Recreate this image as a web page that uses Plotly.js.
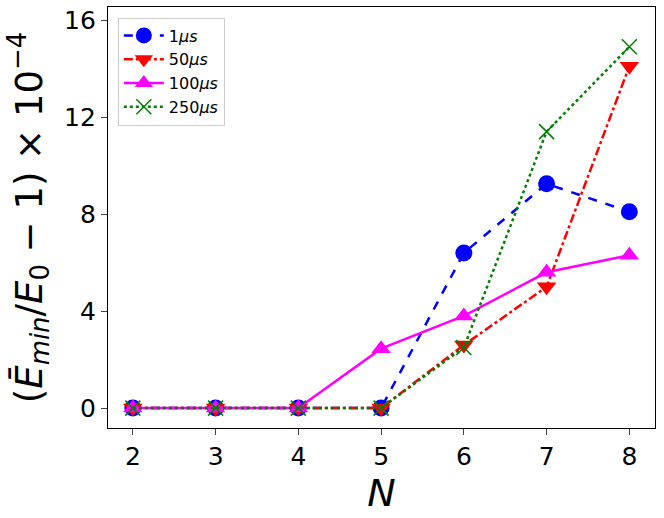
<!DOCTYPE html>
<html>
<head>
<meta charset="utf-8">
<script src="https://cdn.plot.ly/plotly-3.0.1.min.js"></script>
<style>
  html, body { margin: 0; padding: 0; background: #fff; }
  #chart { width: 664px; height: 518px; }
</style>
</head>
<body>
<div id="chart"></div>
<script>
const nValues = [2, 3, 4, 5, 6, 7, 8];
const series1us = [0, 0, 0, 0, 6.4, 9.25, 8.1];
const series50us = [0, 0, 0, 0, 2.6, 5.0, 14.1];
const series100us = [0, 0, 0, 2.45, 3.8, 5.6, 6.3];
const series250us = [0, 0, 0, 0, 2.5, 11.4, 14.9];
const yTicks = [0, 4, 8, 12, 16];

const traces = [
  {x: nValues, y: series1us, name: '1<i>μs</i>', mode: 'lines+markers',
   line: {color: '#0000ff', dash: 'dash', width: 2.5},
   marker: {symbol: 'circle', size: 17, color: '#0000ff'}},
  {x: nValues, y: series50us, name: '50<i>μs</i>', mode: 'lines+markers',
   line: {color: '#ff0000', dash: 'dashdot', width: 2.5},
   marker: {symbol: 'triangle-down', size: 17, color: '#ff0000'}},
  {x: nValues, y: series100us, name: '100<i>μs</i>', mode: 'lines+markers',
   line: {color: '#ff00ff', dash: 'solid', width: 2.5},
   marker: {symbol: 'triangle-up', size: 17, color: '#ff00ff'}},
  {x: nValues, y: series250us, name: '250<i>μs</i>', mode: 'lines+markers',
   line: {color: '#008000', dash: 'dot', width: 2.5},
   marker: {symbol: 'x-thin', size: 15, line: {color: '#008000', width: 1.5}, color: '#008000'}}
];

const layout = {
  width: 664, height: 518,
  margin: {l: 108, r: 9, t: 7, b: 90},
  paper_bgcolor: '#fff', plot_bgcolor: '#fff',
  font: {family: 'DejaVu Sans', color: '#000'},
  showlegend: true,
  legend: {x: 0.018, y: 0.975, xanchor: 'left', yanchor: 'top',
    bgcolor: 'rgba(255,255,255,0.8)', bordercolor: '#cccccc', borderwidth: 1,
    font: {size: 16, family: 'DejaVu Sans'}, tracegroupgap: 0, itemwidth: 40},
  xaxis: {
    range: [1.70, 8.31], tickvals: nValues, ticks: 'outside', ticklen: 6,
    tickfont: {size: 25}, showgrid: false, zeroline: false,
    showline: true, mirror: true, linecolor: '#000', linewidth: 1.2,
    title: {text: '<i>N</i>', font: {size: 38}, standoff: 2}
  },
  yaxis: {
    range: [-0.82, 16.54], tickvals: yTicks, ticks: 'outside', ticklen: 6,
    tickfont: {size: 25}, showgrid: false, zeroline: false,
    showline: true, mirror: true, linecolor: '#000', linewidth: 1.2,
    title: {text: '(<i>Ē</i><sub><i>min</i></sub>/<i>E</i><sub>0</sub> − 1) × 10<sup>−4</sup>',
      font: {size: 37}, standoff: 10}
  }
};

Plotly.newPlot('chart', traces, layout, {displayModeBar: false});
</script>
</body>
</html>
